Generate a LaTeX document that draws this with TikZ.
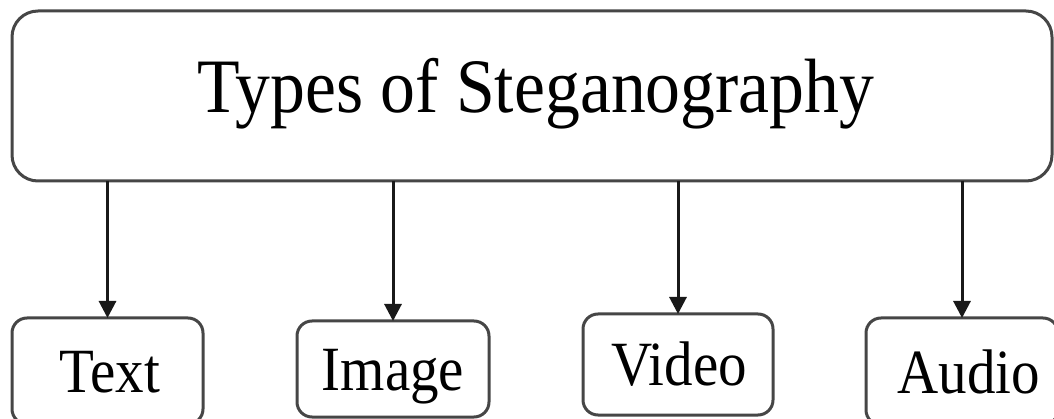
\documentclass[tikz,border=0pt]{standalone}
\usepackage{fontspec}
\setmainfont{Liberation Serif}
\usetikzlibrary{arrows.meta}
\begin{document}
\begin{tikzpicture}[x=1pt,y=-1pt,
  box/.style={draw={rgb,255:red,70;green,70;blue,70}, line width=3pt, fill=white,
    inner sep=0pt, outer sep=0pt},
  bigbox/.style={box, rounded corners=26pt},
  smallbox/.style={box, rounded corners=15pt},
  title/.style={anchor=base, inner sep=0pt, font=\fontsize{77}{80}\selectfont},
  lbl/.style={anchor=base, inner sep=0pt, font=\fontsize{63}{66}\selectfont},
  arr/.style={draw={rgb,255:red,25;green,25;blue,25}, line width=3pt,
    -{Triangle[width=17pt,length=17pt]}}]
  \clip (0,0) rectangle (1054,419);
  \useasboundingbox (0,0) rectangle (1054,419);

  % main box
  \node[bigbox, minimum width=1040pt, minimum height=170pt] (top) at (532,96) {};
  \node[title] (toptxt) at (536,113) {\scalebox{0.905}[1]{Types of Steganography}};

  % category boxes
  \node[smallbox, minimum width=191pt, minimum height=106pt] (text) at (107.5,371) {};
  \node[smallbox, minimum width=192pt, minimum height=96pt] (image) at (393,369) {};
  \node[smallbox, minimum width=190pt, minimum height=101pt] (video) at (678,364.5) {};
  \node[smallbox, minimum width=192pt, minimum height=107pt] (audio) at (962,371.5) {};

  \node[lbl] (textl) at (110,392) {\scalebox{0.905}[1]{Text}};
  \node[lbl] (imagel) at (393,390) {\scalebox{0.905}[1]{Image}};
  \node[lbl] (videol) at (679,385) {\scalebox{0.905}[1]{Video}};
  \node[lbl] (audiol) at (969,393) {\scalebox{0.905}[1]{Audio}};

  % connectors
  \foreach \n in {text,image,video,audio}
    \draw[arr] (\n.north |- top.south) -- (\n.north);
\end{tikzpicture}
\end{document}
